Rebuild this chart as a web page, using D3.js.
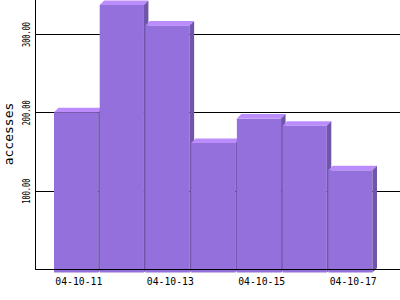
<!DOCTYPE html>
<html>
<head>
<meta charset="utf-8">
<script src="https://cdn.jsdelivr.net/npm/d3@7"></script>
<style>
    body { margin: 0; background: #fff; }
    text { font-family: "DejaVu Sans Mono", monospace; fill: #000; }
</style>
</head>
<body>
<div id="bar_chart"></div>
<script>
// Data
let days = ["04-10-11", "04-10-12", "04-10-13", "04-10-14", "04-10-15", "04-10-16", "04-10-17"];
let accesses = [200, 337, 311, 161, 192, 183, 126];
let y_ticks = [100, 200, 300];
let x_labels = ["04-10-11", "04-10-13", "04-10-15", "04-10-17"];
let y_title = "accesses";

// Generate 3D bar chart
function gen_bar_chart() {
    let width = 400,
        height = 300,
        depth = 4.5;

    let svg = d3.select("#bar_chart")
        .append("svg")
        .attr("width", width)
        .attr("height", height);

    let x = d3.scaleBand()
        .domain(days)
        .range([54, 374])
        .padding(0);

    let y = d3.scaleLinear()
        .domain([0, 300])
        .range([269, 34]);

    // Gridlines + rotated tick labels
    let yAxis = svg.append("g")
        .attr("transform", "translate(35,0)")
        .call(d3.axisLeft(y)
            .tickValues(y_ticks)
            .tickSize(-365)
            .tickFormat(d => d.toFixed(2)));

    yAxis.select(".domain").remove();
    yAxis.selectAll(".tick line")
        .attr("stroke", "#000")
        .attr("shape-rendering", "crispEdges");
    yAxis.selectAll(".tick text")
        .attr("x", 0)
        .attr("dy", 0)
        .attr("text-anchor", "middle")
        .attr("transform", "translate(-5.5,0) rotate(-90)")
        .attr("font-size", 11)
        .attr("textLength", 25)
        .attr("lengthAdjust", "spacingAndGlyphs");

    // y axis line
    svg.append("line")
        .attr("x1", 35.5).attr("x2", 35.5)
        .attr("y1", 0).attr("y2", y(0) + 0.5)
        .attr("stroke", "#000");

    // axis title
    svg.append("text")
        .attr("transform", "translate(13,134) rotate(-90)")
        .attr("text-anchor", "middle")
        .attr("font-size", 13)
        .text(y_title);

    let w = x.bandwidth() - 1.5;
    let base = y(0) + 3.5;

    let bars = svg.append("g")
        .selectAll("g")
        .data(days)
        .enter().append("g");

    // front face
    bars.append("rect")
        .attr("x", d => x(d))
        .attr("y", (d, i) => y(accesses[i]))
        .attr("width", w)
        .attr("height", (d, i) => base - y(accesses[i]))
        .attr("fill", "#9370db");

    // top face
    bars.append("polygon")
        .attr("points", function(d, i) {
            let x0 = x(d), yt = y(accesses[i]);
            return [[x0, yt], [x0 + depth, yt - depth], [x0 + w + depth, yt - depth], [x0 + w, yt]].join(" ");
        })
        .attr("fill", "#bb8cfb");

    // side face
    bars.append("polygon")
        .attr("points", function(d, i) {
            let x0 = x(d) + w, yt = y(accesses[i]);
            return [[x0, yt], [x0 + depth, yt - depth], [x0 + depth, base - depth], [x0, base]].join(" ");
        })
        .attr("fill", "#7056ab");

    // baseline on top of the bars
    svg.append("line")
        .attr("x1", 35).attr("x2", width)
        .attr("y1", y(0) + 0.5).attr("y2", y(0) + 0.5)
        .attr("stroke", "#000");

    // date labels
    let xAxis = svg.append("g")
        .attr("transform", "translate(2," + y(0) + ")")
        .call(d3.axisBottom(x)
            .tickValues(x_labels)
            .tickSize(0));

    xAxis.select(".domain").remove();
    xAxis.selectAll(".tick text")
        .attr("y", 16)
        .attr("dy", 0)
        .attr("font-size", 11)
        .attr("textLength", 47)
        .attr("lengthAdjust", "spacingAndGlyphs");
}

// MAIN
gen_bar_chart();
</script>
</body>
</html>
